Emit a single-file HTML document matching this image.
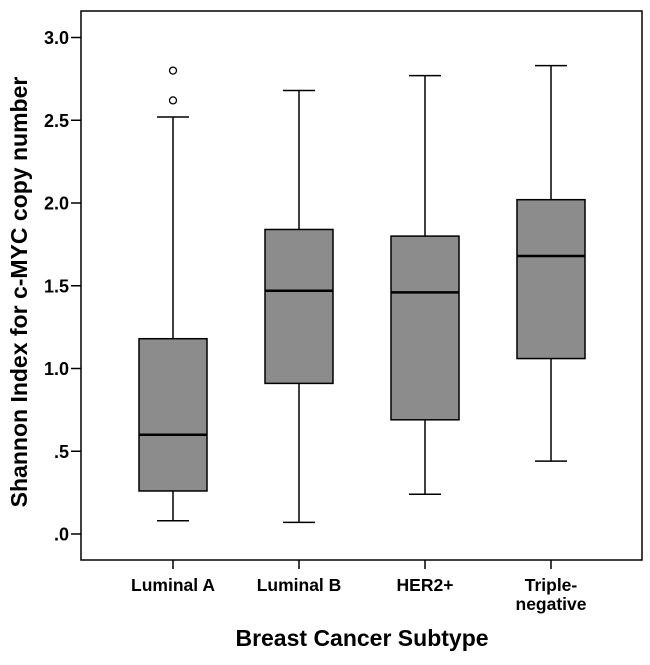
<!DOCTYPE html>
<html><head><meta charset="utf-8"><style>
body{margin:0;background:#fff;}
svg text{font-family:"Liberation Sans",Arial,sans-serif;font-weight:bold;fill:#000;}
</style></head><body>
<svg id="chart" width="650" height="660" viewBox="0 0 650 660" xmlns="http://www.w3.org/2000/svg">
<rect x="81" y="11" width="561" height="549" fill="#fff" stroke="#000" stroke-width="1.5"/>
<g id="yaxis"></g>
<g id="xaxis"></g>
<g id="boxes"></g>
<text transform="translate(27,292) rotate(-90)" text-anchor="middle" font-size="23">Shannon Index for c-MYC copy number</text>
<text x="362" y="646" text-anchor="middle" font-size="23">Breast Cancer Subtype</text>
</svg>
<script>
const categories=[["Luminal A"],["Luminal B"],["HER2+"],["Triple-","negative"]];
const mins=[0.08,0.07,0.24,0.44];
const q1s=[0.26,0.91,0.69,1.06];
const medians=[0.60,1.47,1.46,1.68];
const q3s=[1.18,1.84,1.80,2.02];
const maxs=[2.52,2.68,2.77,2.83];
const outliers=[[2.62,2.80],[],[],[]];
const yTicks=[0,0.5,1.0,1.5,2.0,2.5,3.0];
const yTickLabels=[".0",".5","1.0","1.5","2.0","2.5","3.0"];
const NS="http://www.w3.org/2000/svg";
function y(v){return 534-v*165.5;}
function x(i){return 173+i*126;}
function mk(tag,attrs,parent){const e=document.createElementNS(NS,tag);for(const k in attrs)e.setAttribute(k,attrs[k]);parent.appendChild(e);return e;}
const ya=document.getElementById('yaxis'),xa=document.getElementById('xaxis'),bx=document.getElementById('boxes');
yTicks.forEach((t,i)=>{
 const l=mk('line',{x1:71,x2:81,y1:y(t),y2:y(t),stroke:'#000','stroke-width':1.5},ya);
 
 
 const tx=mk('text',{x:69,y:y(t)+6.5,'text-anchor':'end','font-size':18},ya);
 tx.textContent=yTickLabels[i];
 
 
});
categories.forEach((c,i)=>{
 const cx=x(i);
 const l=mk('line',{x1:cx,x2:cx,y1:560,y2:569,stroke:'#000','stroke-width':1.5},xa);
 
 
 c.forEach((s,j)=>{const t=mk('text',{x:cx,y:591+j*19,'text-anchor':'middle','font-size':17.5},xa);t.textContent=s;
  
  });
 const g=mk('g',{},bx);
 
 
 const s={stroke:'#000','stroke-width':1.5};
 mk('line',Object.assign({x1:cx,x2:cx,y1:y(maxs[i]),y2:y(q3s[i])},s),g);
 mk('line',Object.assign({x1:cx,x2:cx,y1:y(q1s[i]),y2:y(mins[i])},s),g);
 mk('line',Object.assign({x1:cx-16,x2:cx+16,y1:y(maxs[i]),y2:y(maxs[i])},s),g);
 mk('line',Object.assign({x1:cx-16,x2:cx+16,y1:y(mins[i]),y2:y(mins[i])},s),g);
 mk('rect',Object.assign({x:cx-34,width:68,y:y(q3s[i]),height:y(q1s[i])-y(q3s[i]),fill:'#8c8c8c'},s),g);
 mk('line',{x1:cx-34,x2:cx+34,y1:y(medians[i]),y2:y(medians[i]),stroke:'#000','stroke-width':2.5},g);
 outliers[i].forEach(o=>{const c2=mk('circle',{cx:cx,cy:y(o),r:3.5,fill:'#fff',stroke:'#000','stroke-width':1.3},g);
  
  });
});
</script>
</body></html>
